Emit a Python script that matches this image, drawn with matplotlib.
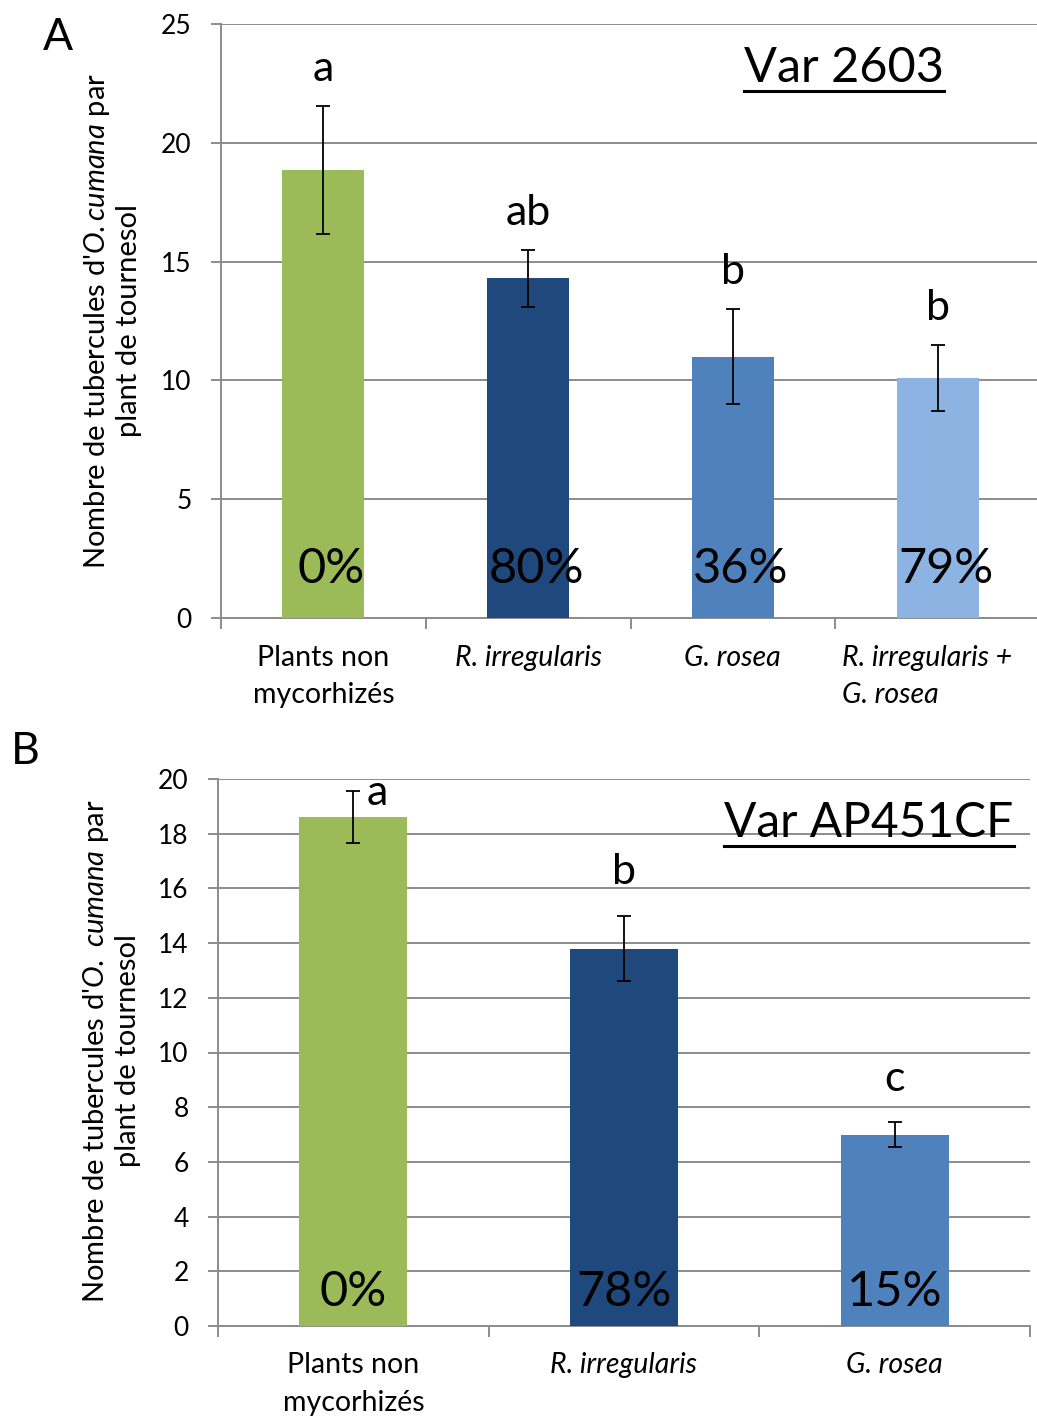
import matplotlib
matplotlib.use("Agg")
import matplotlib.pyplot as plt
from matplotlib.lines import Line2D
import numpy as np

plt.rcParams['font.family'] = ['Lato', 'DejaVu Sans']
plt.rcParams['mathtext.fontset'] = 'custom'
plt.rcParams['mathtext.rm'] = 'Lato'
plt.rcParams['mathtext.it'] = 'Lato:italic'

# --- data ---
cats_a = ["Plants non\nmycorhizés", "R. irregularis", "G. rosea", "R. irregularis +\nG. rosea"]
vals_a = [18.85, 14.3, 11.0, 10.1]
errs_a = [2.7, 1.2, 2.0, 1.4]
letters_a = ["a", "ab", "b", "b"]
pct_a = ["0%", "80%", "36%", "79%"]

cats_b = ["Plants non\nmycorhizés", "R. irregularis", "G. rosea"]
vals_b = [18.6, 13.8, 7.0]
errs_b = [0.95, 1.2, 0.45]
letters_b = ["a", "b", "c"]
pct_b = ["0%", "78%", "15%"]

COLORS = ["#9BBB59", "#1F497D", "#4F81BD", "#8DB3E2"]
GRID = "#8C8C8C"

W, H = 1037, 1420
fig = plt.figure(figsize=(W / 100, H / 100), dpi=100)


def draw_panel(ax, cats, vals, errs, letters, pcts, ymax, ystep, title, lab_gap, pct_y, pct_dx,
               cat_y, title_size):
    x = np.arange(len(cats))
    ax.bar(x, vals, width=0.4, color=COLORS[:len(cats)], zorder=3)
    ax.errorbar(x, vals, yerr=errs, fmt='none', ecolor='black', elinewidth=1.3,
                capsize=5, capthick=1.3, zorder=4)
    ax.set_xlim(-0.5, len(cats) - 0.5)
    ax.set_ylim(0, ymax)
    ax.set_yticks(np.arange(0, ymax + 0.1, ystep))
    ax.yaxis.grid(True, color=GRID, lw=1.4, zorder=0)
    ax.set_axisbelow(True)
    for s in ['top', 'right']:
        ax.spines[s].set_visible(False)
    for s in ['left', 'bottom']:
        ax.spines[s].set_color(GRID)
        ax.spines[s].set_linewidth(1.4)
    ax.tick_params(axis='y', length=7, width=1.4, color=GRID, pad=14, labelsize=19)
    ax.set_xticks([])
    ax.set_xticks(np.arange(len(cats) + 1) - 0.5, minor=True)
    ax.tick_params(axis='x', which='minor', length=8, width=1.4, color=GRID)

    # category labels
    for i, c in enumerate(cats):
        style = 'normal' if i == 0 else 'italic'
        if i == 3:
            ax.text(i - 0.465, cat_y, c, transform=ax.get_xaxis_transform(), ha='left',
                    va='top', fontsize=20.5, style=style, linespacing=1.55)
        else:
            ax.text(i, cat_y, c, transform=ax.get_xaxis_transform(), ha='center',
                    va='top', fontsize=20.5, style=style, linespacing=1.55)

    # significance letters
    for i, (v, e, l) in enumerate(zip(vals, errs, letters)):
        y = v + e + lab_gap
        dx = 0
        if y > ymax * 0.97:
            y = v + e * 0.2
            dx = 0.09
        ax.text(i + dx, y, l, ha='center', va='bottom', fontsize=31)

    # percentage labels
    for i, p in enumerate(pcts):
        ax.text(i + pct_dx, pct_y, p, transform=ax.get_xaxis_transform(), ha='center',
                va='center', fontsize=35)

    t = ax.text(0.79, 0.0, title, transform=ax.transAxes, ha='center', va='center',
                fontsize=title_size)
    return t


ax1 = fig.add_axes([221 / W, 1 - 618 / H, 819 / W, 594 / H])
t1 = draw_panel(ax1, cats_a, vals_a, errs_a, letters_a, pct_a, 25, 5, "Var 2603",
                0.75, (618 - 569) / 594, 0.04, -0.045, 35)
t1.set_position((0.761, (618 - 68) / 594))

ax2 = fig.add_axes([218 / W, 1 - 1326 / H, 812 / W, 547 / H])
t2 = draw_panel(ax2, cats_b, vals_b, errs_b, letters_b, pct_b, 20, 2, "Var AP451CF",
                0.9, (1326 - 1292) / 547, 0.0, -0.048, 34.5)
t2.set_position(((869 - 218) / 812, (1326 - 823) / 547))

# y labels
fig.text(112 / W, 1 - 321 / H,
         "Nombre de tubercules d'$\\mathit{O.cumana}$ par\nplant de tournesol",
         rotation=90, ha='center', va='center', fontsize=21, linespacing=1.2)
fig.text(111 / W, 1 - 1051 / H,
         "Nombre de tubercules d'$\\mathit{O.\\ cumana}$ par\nplant de tournesol",
         rotation=90, ha='center', va='center', fontsize=21, linespacing=1.2)

# panel letters
fig.text(58 / W, 1 - 38 / H, "A", ha='center', va='center', fontsize=32)
fig.text(25 / W, 1 - 752 / H, "B", ha='center', va='center', fontsize=32)

# underline the titles
fig.canvas.draw()
r = fig.canvas.get_renderer()
for t in (t1, t2):
    bb = t.get_window_extent(r)
    yline = bb.y0 - 1
    fig.add_artist(Line2D([bb.x0 / W, bb.x1 / W], [yline / H, yline / H],
                          color='black', lw=2.2, transform=fig.transFigure))

fig.savefig("out.png", dpi=100)
